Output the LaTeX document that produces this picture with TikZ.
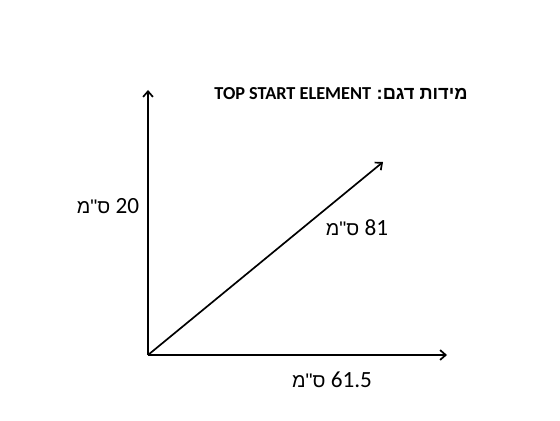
\documentclass[tikz,border=0pt]{standalone}
\usepackage{fontspec}
\setmainfont{Carlito}
\newfontfamily\hebfont[Script=Hebrew,Ligatures=Common]{Liberation Sans}
\TeXXeTstate=1
\usetikzlibrary{arrows.meta}

\begin{document}
\begin{tikzpicture}[
    > = {Straight Barb[length=4pt,width=7pt]}, % arrow head style
    line width = 1.2pt, % axis line style
    ]

    \tikzset{
    dim/.style = {font=\fontsize{16.5}{19}\selectfont, inner sep=0pt},
    heading/.style = {font=\bfseries\fontsize{13}{15}\selectfont, inner sep=0pt}
    }

    \useasboundingbox (0,0) rectangle (14,10.5);

    \coordinate (o) at (3.7,1.625);
    \coordinate (ytip) at (3.7,8.25);
    \coordinate (xtip) at (11.175,1.625);
    \coordinate (dtip) at (9.575,6.45);

    \path[->] (o) edge (ytip);
    \path[->] (o) edge (xtip);
    \path[->] (o) edge (dtip);

    \node[heading] (title) at (8.525,8.16) {\beginR{\hebfont מידות דגם:} \beginL TOP START ELEMENT\endL\endR};
    \node[dim] (h) at (2.7,5.35) {\beginR\beginL 20\endL{} {\hebfont\fontsize{14}{17}\selectfont ס"מ}\endR};
    \node[dim] (d) at (8.925,4.8) {\beginR\beginL 81\endL{} {\hebfont\fontsize{14}{17}\selectfont ס"מ}\endR};
    \node[dim] (w) at (8.3,1.0) {\beginR\beginL 61.5\endL{} {\hebfont\fontsize{14}{17}\selectfont ס"מ}\endR};
\end{tikzpicture}
\end{document}
